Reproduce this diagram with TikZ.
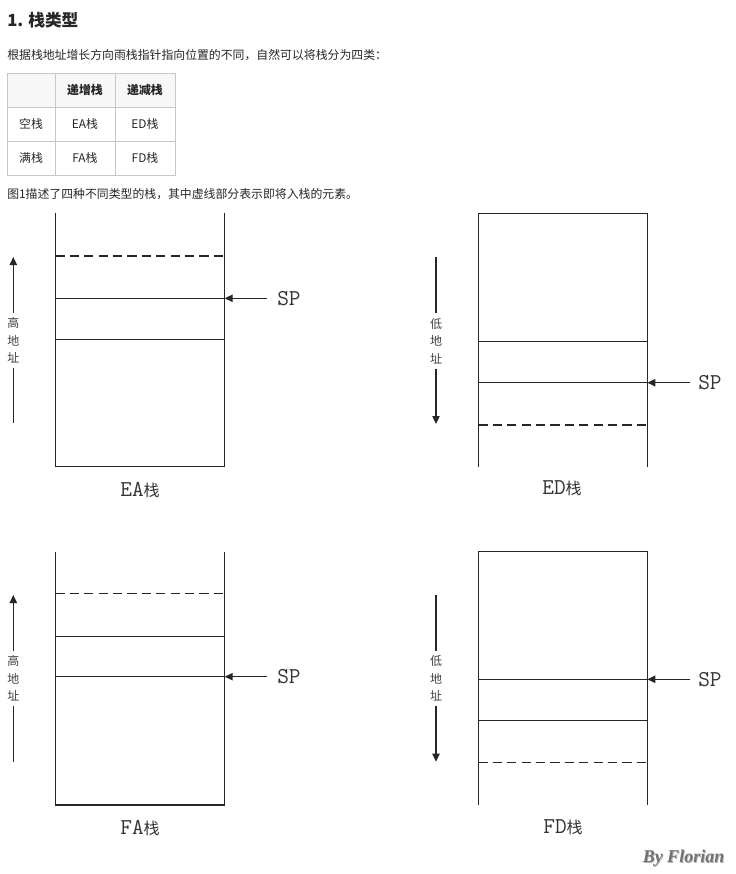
\documentclass[tikz,border=0pt]{standalone}
\usepackage{fontspec}
\setmainfont{Noto Sans CJK SC}
\newfontfamily\cjkfont{Noto Sans CJK SC}
\newfontfamily\wmfont{Liberation Serif}
\usetikzlibrary{arrows.meta}
\begin{document}
\begin{tikzpicture}[x=0.75pt,y=-0.75pt,
  stk/.style={line width=0.9pt, draw=black!85},
  dsh/.style={stk, dash pattern=on 7pt off 3.8pt},
  ptr/.style={stk, -{Triangle[length=6pt,width=5.5pt]}},
  sptext/.style={font=\ttfamily\fontsize{17}{17}\selectfont, text=black!80, anchor=west, inner ysep=0pt, inner xsep=0pt},
  addr/.style={font=\cjkfont\fontsize{9}{13}\selectfont, align=center, inner xsep=0pt, inner ysep=0pt, minimum height=41pt, text=black!75},
  capt/.style={text=black!80, inner sep=0pt},
  body/.style={font=\fontsize{8.9}{11}\selectfont, text=black!85, anchor=west, inner sep=0pt},
  cell/.style={font=\fontsize{8.9}{11}\selectfont, text=black!85, inner sep=0pt},
  tbl/.style={draw=black!22, line width=0.65pt}
]
\useasboundingbox (0,0) rectangle (735,874);

% ---------- header text ----------
\node[anchor=west, inner sep=0pt, text=black!85, font=\bfseries\fontsize{12.5}{14}\selectfont] (title) at (7,20) {1. 栈类型};
\node[body] (intro) at (7,55) {根据栈地址增长方向雨栈指针指向位置的不同，自然可以将栈分为四类：};

% ---------- table ----------
\fill[black!3] (7,73) rectangle (175,107);
\draw[tbl] (7,73) rectangle (175,175);
\draw[tbl] (55,73) -- (55,175);
\draw[tbl] (115,73) -- (115,175);
\draw[tbl] (7,107) -- (175,107);
\draw[tbl] (7,141) -- (175,141);
\node[cell, font=\bfseries\fontsize{8.9}{11}\selectfont] (h1) at (85,90) {递增栈};
\node[cell, font=\bfseries\fontsize{8.9}{11}\selectfont] (h2) at (145,90) {递减栈};
\node[cell] (r1) at (31,124) {空栈};
\node[cell] (c11) at (85,124) {EA栈};
\node[cell] (c12) at (145,124) {ED栈};
\node[cell] (r2) at (31,158) {满栈};
\node[cell] (c21) at (85,158) {FA栈};
\node[cell] (c22) at (145,158) {FD栈};

\node[body] (desc) at (7,194) {图1描述了四种不同类型的栈，其中虚线部分表示即将入栈的元素。};

% ---------- EA stack ----------
\draw[stk] (55.3,213) -- (55.3,466.7) -- (224.7,466.7) -- (224.7,213);
\draw[dsh] (55.3,256) -- (224.7,256);
\draw[stk] (55.3,298.3) -- (224.7,298.3);
\draw[stk] (55.3,339.3) -- (224.7,339.3);
\node[sptext] (spEA) at (277,298.3) {SP};
\coordinate (pEA) at (224.7,298.3);
\draw[ptr] ([xshift=-7.7pt]spEA.west) -- (pEA);
\node[addr] (adEA) at (13.3,340.5) {高\\地\\址};
\coordinate (tEA) at (13.3,257);
\coordinate (bEA) at (13.3,423);
\draw[ptr] (adEA.north) -- (tEA);
\draw[stk] (adEA.south) -- (bEA);
\node[capt] (capEA) at (140,490) {{\ttfamily\fontsize{17}{17}\selectfont EA}{\cjkfont\fontsize{12}{14}\selectfont 栈}};

% ---------- ED stack ----------
\draw[stk] (478.3,466.7) -- (478.3,213.3) -- (647.3,213.3) -- (647.3,466.7);
\draw[stk] (478.3,341.7) -- (647.3,341.7);
\draw[stk] (478.3,382.7) -- (647.3,382.7);
\draw[dsh] (478.3,425) -- (647.3,425);
\node[sptext] (spED) at (698,382.7) {SP};
\coordinate (pED) at (647.3,382.7);
\draw[ptr] ([xshift=-6pt]spED.west) -- (pED);
\node[addr] (adED) at (436,341) {低\\地\\址};
\coordinate (tED) at (436,256.7);
\coordinate (bED) at (436,424);
\draw[stk] (adED.north) -- (tED);
\draw[ptr] (adED.south) -- (bED);
\node[capt] (capED) at (562,488) {{\ttfamily\fontsize{17}{17}\selectfont ED}{\cjkfont\fontsize{12}{14}\selectfont 栈}};

% ---------- FA stack ----------
\draw[stk] (55.3,551.7) -- (55.3,805) -- (224.7,805) -- (224.7,551.7);
\draw[dsh] (55.3,593.3) -- (224.7,593.3);
\draw[stk] (55.3,636.7) -- (224.7,636.7);
\draw[stk] (55.3,676.7) -- (224.7,676.7);
\node[sptext] (spFA) at (277,676.7) {SP};
\coordinate (pFA) at (224.7,676.7);
\draw[ptr] ([xshift=-7.7pt]spFA.west) -- (pFA);
\node[addr] (adFA) at (13.3,678.5) {高\\地\\址};
\coordinate (tFA) at (13.3,595);
\coordinate (bFA) at (13.3,761.7);
\draw[ptr] (adFA.north) -- (tFA);
\draw[stk] (adFA.south) -- (bFA);
\node[capt] (capFA) at (140,828) {{\ttfamily\fontsize{17}{17}\selectfont FA}{\cjkfont\fontsize{12}{14}\selectfont 栈}};

% ---------- FD stack ----------
\draw[stk] (478.3,805) -- (478.3,551.7) -- (647.3,551.7) -- (647.3,805);
\draw[stk] (478.3,679.3) -- (647.3,679.3);
\draw[stk] (478.3,720.7) -- (647.3,720.7);
\draw[dsh] (478.3,762.7) -- (647.3,762.7);
\node[sptext] (spFD) at (698,679.3) {SP};
\coordinate (pFD) at (647.3,679.3);
\draw[ptr] ([xshift=-6pt]spFD.west) -- (pFD);
\node[addr] (adFD) at (436,678.5) {低\\地\\址};
\coordinate (tFD) at (436,595);
\coordinate (bFD) at (436,761.7);
\draw[stk] (adFD.north) -- (tFD);
\draw[ptr] (adFD.south) -- (bFD);
\node[capt] (capFD) at (563,827) {{\ttfamily\fontsize{17}{17}\selectfont FD}{\cjkfont\fontsize{12}{14}\selectfont 栈}};

% ---------- watermark ----------
\node[inner sep=0pt, text=black!30, font=\wmfont\bfseries\itshape\fontsize{13.5}{14}\selectfont] (wmsh) at (684.3,858.8) {By Florian};
\node[inner sep=0pt, text=black!55, font=\wmfont\bfseries\itshape\fontsize{13.5}{14}\selectfont] (wm) at (683.5,858) {By Florian};
\end{tikzpicture}
\end{document}
